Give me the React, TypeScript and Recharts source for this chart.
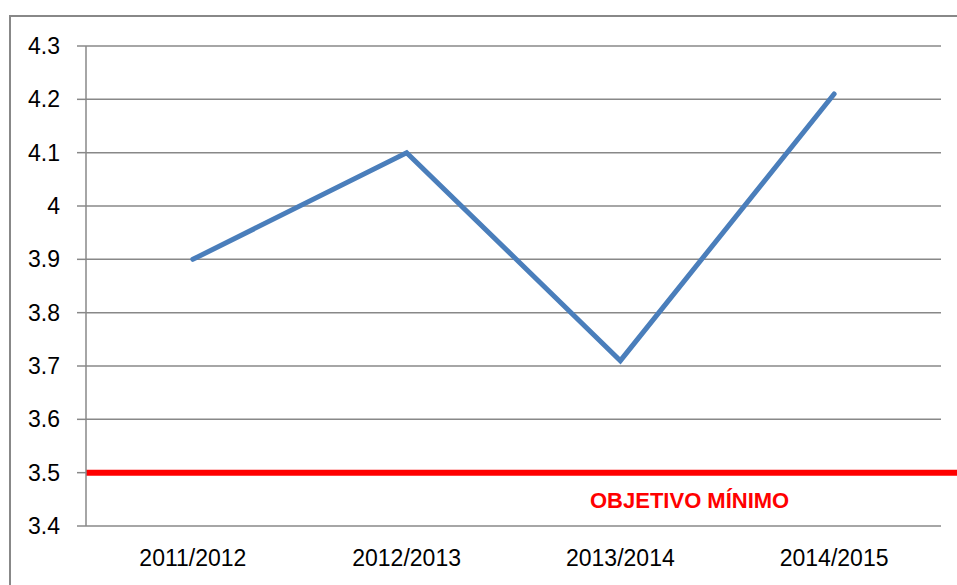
import React from "react";
import {
	CartesianGrid,
	Line,
	LineChart,
	ReferenceLine,
	XAxis,
	YAxis,
} from "recharts";

const years = ["2011/2012", "2012/2013", "2013/2014", "2014/2015"];
const scores = [3.9, 4.1, 3.71, 4.21];
const yTicks = [3.4, 3.5, 3.6, 3.7, 3.8, 3.9, 4, 4.1, 4.2, 4.3];
const boundaryTicks = [0, 1, 2, 3, 4];
const minTarget = 3.5;
const minTargetLabel = "OBJETIVO MÍNIMO";

// pos puts each point in the middle of its category band
const data = years.map((year, i) => ({
	year,
	pos: i + 0.5,
	score: scores[i],
}));

const W = 957;
const H = 585;
const font = "'Liberation Sans', Arial, sans-serif";
const gray = "#888888";

const TargetLine = (props: any) => {
	const { x1, y1, y2 } = props;
	return (
		<line x1={x1} y1={y1} x2={W} y2={y2} stroke="#ff0000" strokeWidth={6} />
	);
};

const TargetLabel = (props: any) => {
	const { viewBox } = props;
	if (!viewBox) return null;
	return (
		<text
			x={viewBox.x + viewBox.width * 0.706}
			y={viewBox.y + 35}
			textAnchor="middle"
			fill="#ff0000"
			fontWeight="bold"
			fontSize={22}
			fontFamily={font}
		>
			{minTargetLabel}
		</text>
	);
};

const App = () => {
	return (
		<div
			style={{
				position: "absolute",
				left: 0,
				top: 0,
				width: W,
				height: H,
				overflow: "hidden",
				background: "#fff",
			}}
		>
			<div
				style={{
					position: "absolute",
					left: 9,
					top: 15,
					width: 980,
					height: 600,
					border: `2px solid ${gray}`,
				}}
			/>
			<div style={{ position: "absolute", left: 0, top: 0 }}>
				<LineChart
					width={W}
					height={H}
					data={data}
					margin={{ top: 46, right: 16, bottom: 0, left: 0 }}
				>
					<CartesianGrid
						xAxisId="grid"
						vertical={false}
						stroke={gray}
						strokeWidth={1.5}
					/>
					<XAxis
						xAxisId="grid"
						type="number"
						dataKey="pos"
						domain={[0, 4]}
						ticks={boundaryTicks}
						tick={false}
						tickSize={7}
						height={0}
						axisLine={{ stroke: gray, strokeWidth: 1.5 }}
						tickLine={{ stroke: gray, strokeWidth: 1.5 }}
					/>
					<XAxis
						xAxisId="cat"
						dataKey="year"
						scale="band"
						height={59}
						axisLine={false}
						tickLine={false}
						tickSize={0}
						tickMargin={24}
						tick={{ fill: "#000", fontSize: 23, fontFamily: font }}
					/>
					<YAxis
						type="number"
						domain={[3.4, 4.3]}
						ticks={yTicks}
						width={86}
						tickSize={9}
						tickMargin={17}
						axisLine={{ stroke: gray, strokeWidth: 1.5 }}
						tickLine={{ stroke: gray, strokeWidth: 1.5 }}
						tick={{ fill: "#000", fontSize: 23, fontFamily: font }}
					/>
					<ReferenceLine
						xAxisId="grid"
						y={minTarget}
						shape={TargetLine}
						label={<TargetLabel />}
					/>
					<Line
						xAxisId="grid"
						dataKey="score"
						stroke="#4a7ebb"
						strokeWidth={5}
						strokeLinecap="round"
						dot={false}
						activeDot={false}
						isAnimationActive={false}
					/>
				</LineChart>
			</div>
		</div>
	);
};

export default App;
